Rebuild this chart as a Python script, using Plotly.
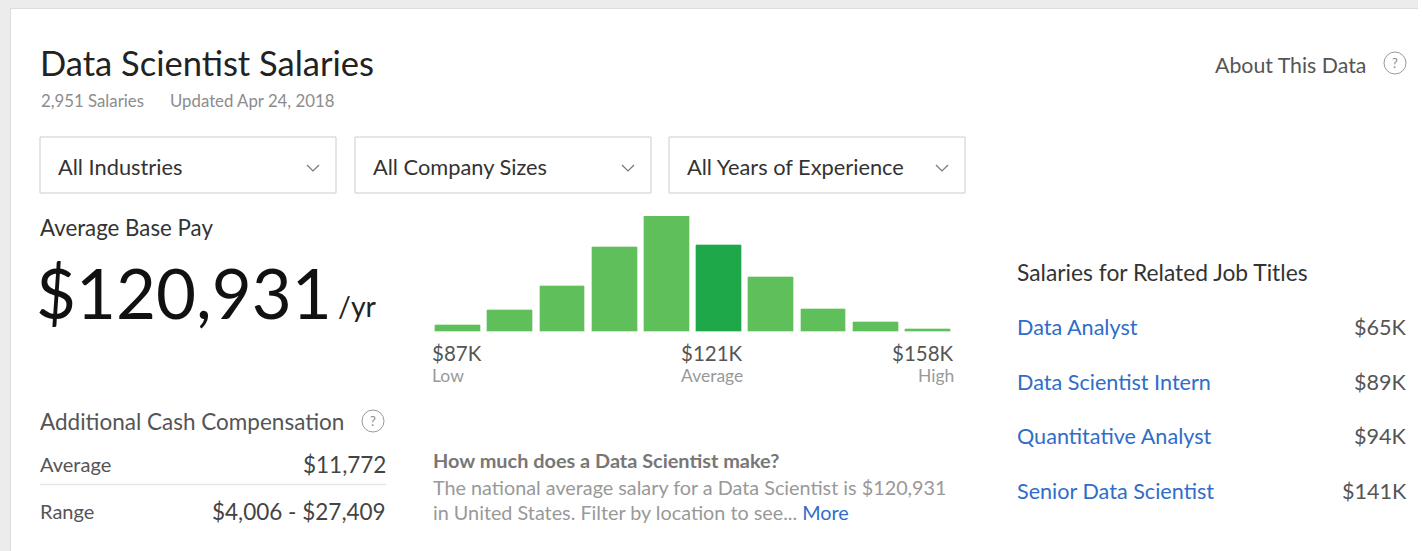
import plotly.graph_objects as go

W, H = 1422, 551
FONT = "Lato"

# ---------------- data ----------------
title = "Data Scientist Salaries"
n_salaries = "2,951 Salaries"
updated = "Updated Apr 24, 2018"
filters = ["All Industries", "All Company Sizes", "All Years of Experience"]
avg_base_pay = "$120,931"
salary_low_k = 87
salary_avg_k = 120.931
salary_high_k = 158
bin_share = [6.1, 18.7, 39.8, 73.5, 100, 74.9, 47.3, 19.9, 8.6, 2.6]
highlight_bin = 5
axis_labels = ["$87K", "$121K", "$158K"]
axis_sublabels = ["Low", "Average", "High"]
extra_labels = ["Average", "Range"]
extra_values = ["$11,772", "$4,006 - $27,409"]
related_titles = ["Data Analyst", "Data Scientist Intern", "Quantitative Analyst", "Senior Data Scientist"]
related_pay = ["$65K", "$89K", "$94K", "$141K"]

# ---------------- helpers ----------------
def px(x):
    return x / W

def py(y):
    return 1 - y / H

annotations = []
shapes = []

def text(x, y, s, size, color, xanchor="left", bold=False):
    annotations.append(dict(
        x=px(x), y=py(y), xref="paper", yref="paper", text=("<b>%s</b>" % s) if bold else s,
        showarrow=False, xanchor=xanchor, yanchor="middle",
        font=dict(family=FONT, size=size, color=color)))

def rect(x0, y0, x1, y1, fill=None, line=None, lw=1):
    shapes.append(dict(type="rect", xref="paper", yref="paper",
                       x0=px(x0), x1=px(x1), y0=py(y1), y1=py(y0),
                       fillcolor=fill if fill else "rgba(0,0,0,0)",
                       line=dict(color=line if line else "rgba(0,0,0,0)", width=lw if line else 0),
                       layer="below"))

def hline(x0, x1, y, color, lw=1):
    shapes.append(dict(type="line", xref="paper", yref="paper",
                       x0=px(x0), x1=px(x1), y0=py(y), y1=py(y),
                       line=dict(color=color, width=lw)))

def qmark(cx, cy, r=11):
    shapes.append(dict(type="circle", xref="paper", yref="paper",
                       x0=px(cx - r), x1=px(cx + r), y0=py(cy + r), y1=py(cy - r),
                       line=dict(color="#9a9a9a", width=1)))
    text(cx, cy, "?", 13, "#8a8a8a", xanchor="center")

def chevron(cx, cy):
    path = "M %f %f L %f %f L %f %f" % (px(cx - 6), py(cy - 3), px(cx), py(cy + 3), px(cx + 6), py(cy - 3))
    shapes.append(dict(type="path", xref="paper", yref="paper", path=path,
                       line=dict(color="#777", width=1.2)))

# ---------------- frame ----------------
rect(0, 0, 1418, 8, fill="#ececec")
rect(0, 0, 10, H, fill="#ececec")
shapes.append(dict(type="line", xref="paper", yref="paper", x0=px(10.5), x1=px(10.5), y0=0, y1=py(8),
                   line=dict(color="#dddddd", width=1)))
shapes.append(dict(type="line", xref="paper", yref="paper", x0=px(10.5), x1=px(1418), y0=py(8.5), y1=py(8.5),
                   line=dict(color="#dddddd", width=1)))

# ---------------- header ----------------
text(38, 62, title, 34.5, "#222222")
text(39, 101, n_salaries, 16.8, "#8c8c8c")
text(168, 101, updated, 16.8, "#8c8c8c")
text(1368, 65, "About This Data", 21.3, "#555555", xanchor="right")
qmark(1395, 63)

# ---------------- dropdowns ----------------
boxes = [(40, 336), (355, 651), (669, 965)]
for (x0, x1), lab in zip(boxes, filters):
    rect(x0, 137, x1, 193, fill="white", line="#cccccc")
    text(x0 + 16, 166, lab, 21.8, "#333333")
    chevron(x1 - 23, 168)

# ---------------- average base pay ----------------
text(38, 227, "Average Base Pay", 22.3, "#333333")
text(34, 292, avg_base_pay, 69, "#111111")
text(336, 306, "/yr", 28.5, "#222222")

# ---------------- additional cash ----------------
text(38, 421, "Additional Cash Compensation", 22.5, "#555555")
qmark(373, 421)
text(38, 464, extra_labels[0], 20, "#555555")
text(388, 464, extra_values[0], 22.5, "#444444", xanchor="right")
hline(40, 386, 484.5, "#e6e6e6", 1.5)
text(38, 511, extra_labels[1], 20, "#555555")
text(388, 511, extra_values[1], 22.5, "#444444", xanchor="right")

# ---------------- question ----------------
text(431, 460, "How much does a Data Scientist make?", 19.9, "#777777", bold=True)
text(431, 487, "The national average salary for a Data Scientist is $120,931", 19.8, "#999999")
text(431, 512, "in United States. Filter by location to see... <span style='color:#2f6dc8'>More</span>", 19.8, "#999999")

# ---------------- related titles ----------------
text(1015, 272, "Salaries for Related Job Titles", 22.8, "#333333")
for i, (t, p) in enumerate(zip(related_titles, related_pay)):
    y = 327 + i * 54.7
    text(1015, y, t, 21.6, "#2f6dc8")
    text(1409, y, p, 21.6, "#555555", xanchor="right")

# ---------------- histogram ----------------
nb = len(bin_share)
bw = (salary_high_k - salary_low_k) / nb
centers = [salary_low_k + bw * (i + 0.5) for i in range(nb)]
colors = ["#1fa84a" if i == highlight_bin else "#5fc05b" for i in range(nb)]

fig = go.Figure(go.Bar(
    x=centers, y=bin_share, width=bw * 0.875,
    marker=dict(color=colors, line=dict(color="rgba(255,255,255,0.35)", width=1), cornerradius=2),
    hoverinfo="skip"))

top_px, base_px = 216, 332
fig.update_xaxes(range=[salary_low_k, salary_high_k], domain=[px(432), px(954)],
                 visible=False, fixedrange=True)
fig.update_yaxes(range=[0, max(bin_share)], domain=[py(base_px), py(top_px)],
                 visible=False, fixedrange=True)

axis_x = [salary_low_k, salary_avg_k, salary_high_k]
anchors = ["left", "left", "right"]
for xv, lab, sub, anc in zip(axis_x, axis_labels, axis_sublabels, anchors):
    annotations.append(dict(x=xv, y=py(353), xref="x", yref="paper", text=lab, showarrow=False,
                            xanchor=anc, yanchor="middle", xshift=-2 if anc == "left" else 2,
                            font=dict(family=FONT, size=20.5, color="#555555")))
    annotations.append(dict(x=xv, y=py(375), xref="x", yref="paper", text=sub, showarrow=False,
                            xanchor=anc, yanchor="middle", xshift=-2 if anc == "left" else 2,
                            font=dict(family=FONT, size=17.5, color="#999999")))

fig.update_layout(
    width=W, height=H, autosize=False,
    margin=dict(l=0, r=0, t=0, b=0),
    paper_bgcolor="white", plot_bgcolor="rgba(0,0,0,0)",
    showlegend=False, bargap=0,
    annotations=annotations, shapes=shapes,
    font=dict(family=FONT),
)

fig.write_html("out.html", config={"displayModeBar": False},
               post_script="document.body.style.margin='0';document.body.style.overflow='hidden';")
